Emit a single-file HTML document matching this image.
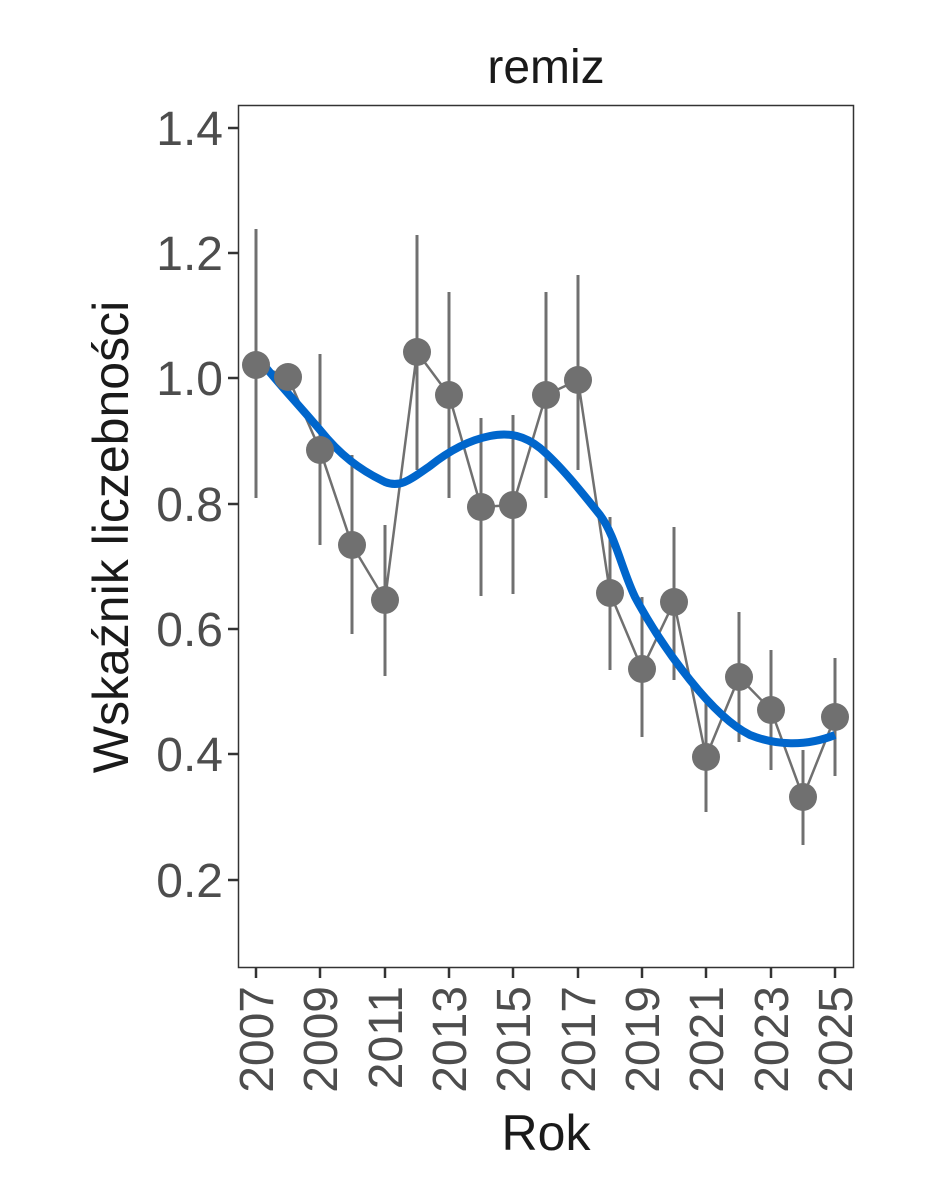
<!DOCTYPE html>
<html><head><meta charset="utf-8"><style>
html,body{margin:0;padding:0;background:#fff;}
svg{display:block;font-family:"Liberation Sans",Arial,sans-serif;}
</style></head><body>
<svg width="944" height="1181" viewBox="0 0 944 1181" xmlns="http://www.w3.org/2000/svg">
<rect width="944" height="1181" fill="#fff"/>
<text x="546" y="83" font-size="48" text-anchor="middle" fill="#1a1a1a">remiz</text>
<rect x="238.5" y="105.5" width="615" height="862" fill="none" stroke="#333" stroke-width="1.5"/>
<g stroke="#333" stroke-width="2.5">
<line x1="228" y1="128" x2="238" y2="128"/><line x1="228" y1="253" x2="238" y2="253"/>
<line x1="228" y1="378" x2="238" y2="378"/><line x1="228" y1="504" x2="238" y2="504"/>
<line x1="228" y1="629" x2="238" y2="629"/><line x1="228" y1="754" x2="238" y2="754"/>
<line x1="228" y1="880" x2="238" y2="880"/>
<line x1="256" y1="968" x2="256" y2="978"/><line x1="320" y1="968" x2="320" y2="978"/>
<line x1="385" y1="968" x2="385" y2="978"/><line x1="449" y1="968" x2="449" y2="978"/>
<line x1="513" y1="968" x2="513" y2="978"/><line x1="578" y1="968" x2="578" y2="978"/>
<line x1="642" y1="968" x2="642" y2="978"/><line x1="706" y1="968" x2="706" y2="978"/>
<line x1="771" y1="968" x2="771" y2="978"/><line x1="835" y1="968" x2="835" y2="978"/>
</g>
<g font-size="48" fill="#4d4d4d" text-anchor="end">
<text x="223" y="145">1.4</text><text x="223" y="270">1.2</text><text x="223" y="395">1.0</text>
<text x="223" y="521">0.8</text><text x="223" y="646">0.6</text><text x="223" y="771">0.4</text>
<text x="223" y="897">0.2</text>
</g>
<g font-size="48" fill="#4d4d4d" text-anchor="end">
<text transform="translate(273,986) rotate(-90)">2007</text>
<text transform="translate(337,986) rotate(-90)">2009</text>
<text transform="translate(402,986) rotate(-90)">2011</text>
<text transform="translate(466,986) rotate(-90)">2013</text>
<text transform="translate(530,986) rotate(-90)">2015</text>
<text transform="translate(595,986) rotate(-90)">2017</text>
<text transform="translate(659,986) rotate(-90)">2019</text>
<text transform="translate(723,986) rotate(-90)">2021</text>
<text transform="translate(788,986) rotate(-90)">2023</text>
<text transform="translate(852,986) rotate(-90)">2025</text>
</g>
<text x="546" y="1150" font-size="50" text-anchor="middle" fill="#1a1a1a">Rok</text>
<text transform="translate(128,537) rotate(-90)" font-size="50" text-anchor="middle" fill="#1a1a1a">Wskaźnik liczebności</text>
<g stroke="#707070" stroke-width="3">
<line x1="256" y1="229" x2="256" y2="498"/>
<line x1="320" y1="354" x2="320" y2="545"/>
<line x1="352" y1="455" x2="352" y2="634"/>
<line x1="385" y1="525" x2="385" y2="676"/>
<line x1="417" y1="235" x2="417" y2="470"/>
<line x1="449" y1="292" x2="449" y2="498"/>
<line x1="481" y1="418" x2="481" y2="596"/>
<line x1="513" y1="415" x2="513" y2="594"/>
<line x1="546" y1="292" x2="546" y2="498"/>
<line x1="578" y1="275" x2="578" y2="470"/>
<line x1="610" y1="517" x2="610" y2="670"/>
<line x1="642" y1="597" x2="642" y2="737"/>
<line x1="674" y1="527" x2="674" y2="680"/>
<line x1="706" y1="695" x2="706" y2="812"/>
<line x1="739" y1="612" x2="739" y2="742"/>
<line x1="771" y1="650" x2="771" y2="770"/>
<line x1="803" y1="750" x2="803" y2="845"/>
<line x1="835" y1="658" x2="835" y2="776"/>
</g>
<polyline fill="none" stroke="#707070" stroke-width="2.5" points="256,365 288,377 320,450 352,545 385,600 417,352 449,395 481,507 513,505 546,395 578,380 610,593 642,669 674,602 706,757 739,677 771,710 803,797 835,717"/>
<path fill="none" stroke="#0066cc" stroke-width="8" d="M256,355 C275,380 290,395 320,430 C340,455 360,470 385,482 C400,488 410,480 430,466 C450,450 470,440 490,436 C510,432 525,436 540,448 C560,465 580,490 600,515 C615,535 622,570 635,597 C650,625 670,655 690,680 C710,705 730,725 750,735 C775,745 805,747 835,735"/>
<g fill="#707070">
<circle cx="256" cy="365" r="14"/><circle cx="288" cy="377" r="14"/><circle cx="320" cy="450" r="14"/>
<circle cx="352" cy="545" r="14"/><circle cx="385" cy="600" r="14"/><circle cx="417" cy="352" r="14"/>
<circle cx="449" cy="395" r="14"/><circle cx="481" cy="507" r="14"/><circle cx="513" cy="505" r="14"/>
<circle cx="546" cy="395" r="14"/><circle cx="578" cy="380" r="14"/><circle cx="610" cy="593" r="14"/>
<circle cx="642" cy="669" r="14"/><circle cx="674" cy="602" r="14"/><circle cx="706" cy="757" r="14"/>
<circle cx="739" cy="677" r="14"/><circle cx="771" cy="710" r="14"/><circle cx="803" cy="797" r="14"/>
<circle cx="835" cy="717" r="14"/>
</g>
</svg>
</body></html>
